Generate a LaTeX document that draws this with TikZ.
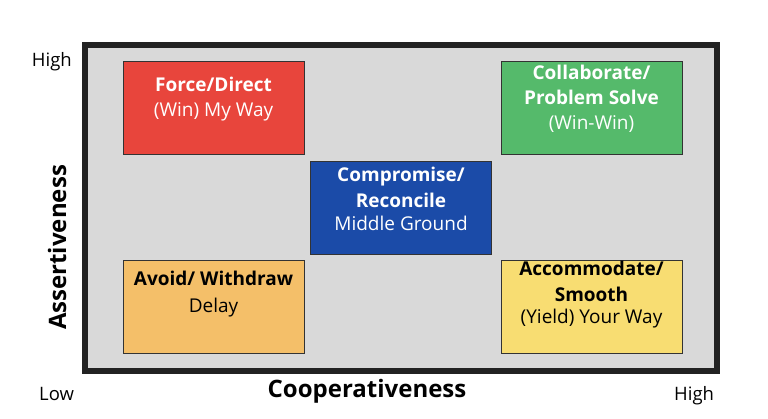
\documentclass[tikz,border=0pt]{standalone}
\usepackage{fontspec}
\setmainfont{Open Sans}
\usetikzlibrary{positioning}
\definecolor{bgclr}{HTML}{D9D9D9}
\definecolor{frameclr}{HTML}{222222}
\definecolor{forceclr}{HTML}{E8453C}
\definecolor{collabclr}{HTML}{55BA6B}
\definecolor{compclr}{HTML}{1B4BA8}
\definecolor{avoidclr}{HTML}{F4BF69}
\definecolor{accomclr}{HTML}{F8DD72}
\begin{document}
\begin{tikzpicture}[x=1pt, y=-1pt,
  box/.style={draw=black!80, line width=1pt, minimum width=181pt, minimum height=93pt, inner sep=0pt},
  txt/.style={anchor=base, align=center, inner sep=0pt, font=\fontsize{19}{25}\selectfont},
  axis/.style={inner sep=0pt, font=\fontsize{18.5}{20}\selectfont},
  title/.style={inner sep=0pt, font=\fontsize{24}{28}\selectfont\bfseries}]
  \useasboundingbox (0,0) rectangle (768,419);
  % grid frame
  \draw[fill=bgclr, draw=frameclr, line width=6pt] (85,45) rectangle (717,371);
  % the five styles
  \node[box, fill=forceclr] (force) at (213.5,108.5) {};
  \node[box, fill=collabclr] (collab) at (591.5,108.5) {};
  \node[box, fill=compclr] (comp) at (401,208) {};
  \node[box, fill=avoidclr] (avoid) at (213.5,307) {};
  \node[box, fill=accomclr] (accom) at (591.5,307) {};
  % anchor base = last line
  \node[txt, white] (forcetxt) at ([yshift=-55pt]force.north) {\textbf{Force/Direct}\\(Win) My Way};
  \node[txt, white] (collabtxt) at ([yshift=-68pt]collab.north) {\textbf{Collaborate/}\\\textbf{Problem Solve}\\(Win-Win)};
  \node[txt, white] (comptxt) at ([yshift=-70pt]comp.north) {\textbf{Compromise/}\\[1pt]\textbf{Reconcile}\\[-2pt]Middle Ground};
  \node[txt] (avoidtxt) at ([yshift=-53pt]avoid.north) {\textbf{Avoid/ Withdraw}\\[3pt]Delay};
  \node[txt] (accomtxt) at ([yshift=-64pt]accom.north) {\textbf{Accommodate/}\\[1pt]\textbf{Smooth}\\[-3pt](Yield) Your Way};
  % axes
  \node[axis, anchor=base east] (yhigh) at (72,67) {High};
  \node[axis, anchor=base west] (low) at (39,400) {Low};
  \node[axis, anchor=base west] (xhigh) at (674,400) {High};
  \node[title, anchor=base] (xlabel) at (367,397) {Cooperativeness};
  \node[title, anchor=base, rotate=90] (ylabel) at (66,247.5) {Assertiveness};
\end{tikzpicture}
\end{document}
